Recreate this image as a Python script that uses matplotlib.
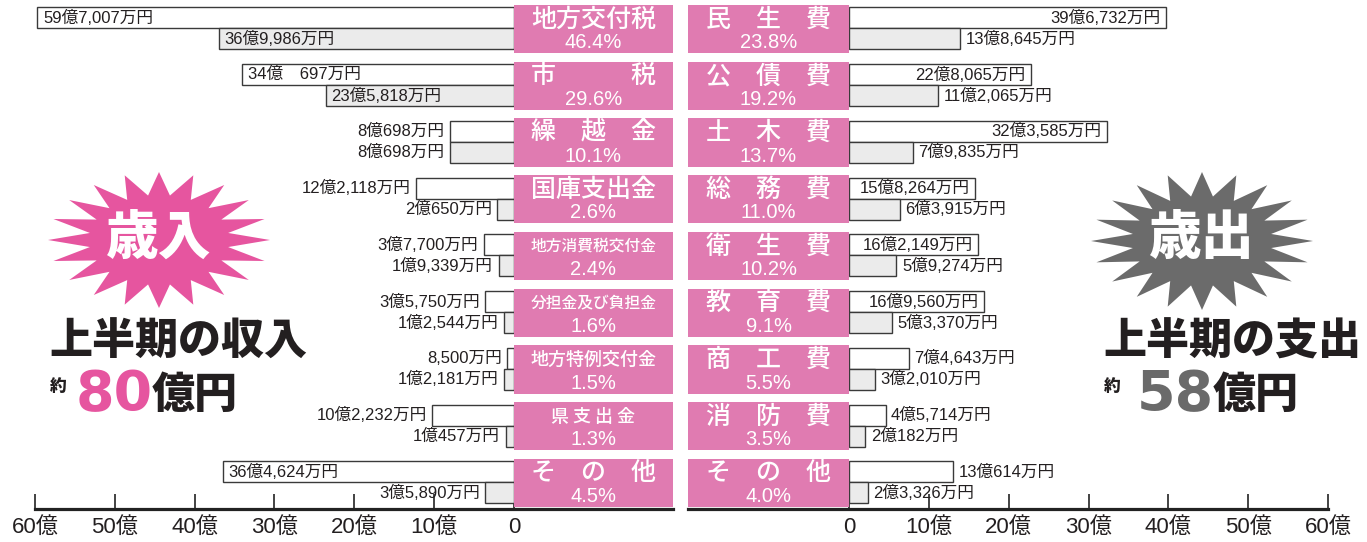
import numpy as np
import matplotlib
matplotlib.use('Agg')
import matplotlib.pyplot as plt
from matplotlib.patches import Rectangle, Polygon

plt.rcParams['font.family'] = ['Liberation Sans', 'Noto Sans CJK JP']

# ---------------- data (億円) ----------------
rev_names = ['地方交付税', '市　　　税', '繰　越　金', '国庫支出金', '地方消費税交付金',
             '分担金及び負担金', '地方特例交付金', '県 支 出 金', 'そ　の　他']
rev_pct = ['46.4%', '29.6%', '10.1%', '2.6%', '2.4%', '1.6%', '1.5%', '1.3%', '4.5%']
rev_budget = [59.7007, 34.0697, 8.0698, 12.2118, 3.7700, 3.5750, 0.8500, 10.2232, 36.4624]
rev_actual = [36.9986, 23.5818, 8.0698, 2.0650, 1.9339, 1.2544, 1.2181, 1.0457, 3.5890]
rev_budget_lbl = ['59億7,007万円', '34億\u3000697万円', '8億698万円', '12億2,118万円', '3億7,700万円',
                  '3億5,750万円', '8,500万円', '10億2,232万円', '36億4,624万円']
rev_actual_lbl = ['36億9,986万円', '23億5,818万円', '8億698万円', '2億650万円', '1億9,339万円',
                  '1億2,544万円', '1億2,181万円', '1億457万円', '3億5,890万円']

exp_names = ['民　生　費', '公　債　費', '土　木　費', '総　務　費', '衛　生　費',
             '教　育　費', '商　工　費', '消　防　費', 'そ　の　他']
exp_pct = ['23.8%', '19.2%', '13.7%', '11.0%', '10.2%', '9.1%', '5.5%', '3.5%', '4.0%']
exp_budget = [39.6732, 22.8065, 32.3585, 15.8264, 16.2149, 16.9560, 7.4643, 4.5714, 13.0614]
exp_actual = [13.8645, 11.2065, 7.9835, 6.3915, 5.9274, 5.3370, 3.2010, 2.0182, 2.3326]
exp_budget_lbl = ['39億6,732万円', '22億8,065万円', '32億3,585万円', '15億8,264万円', '16億2,149万円',
                  '16億9,560万円', '7億4,643万円', '4億5,714万円', '13億614万円']
exp_actual_lbl = ['13億8,645万円', '11億2,065万円', '7億9,835万円', '6億3,915万円', '5億9,274万円',
                  '5億3,370万円', '3億2,010万円', '2億182万円', '2億3,326万円']

tick_vals = [0, 10, 20, 30, 40, 50, 60]
tick_lbls = ['0', '10億', '20億', '30億', '40億', '50億', '60億']

# ---------------- styling ----------------
W, H = 1367, 542
BOX_PINK = '#E07BB1'
STAR_PINK = '#E6559F'
STAR_GRAY = '#6B6B6B'
EDGE = '#3a3a3a'
TEXT = '#231f20'

fig = plt.figure(figsize=(W / 100, H / 100), dpi=100)
fig.patch.set_facecolor('white')


def px_axes(x0, x1, y0, y1, **kw):
    return fig.add_axes([x0 / W, 1 - y1 / H, (x1 - x0) / W, (y1 - y0) / H], **kw)


PITCH = 56.75
ROW0 = 29.0
BASE = 509.0
rows = np.arange(len(rev_names))
ylim = ((BASE - ROW0) / PITCH, -ROW0 / PITCH)
BAR_H = 0.37
TOP_OFF = -0.195
BOT_OFF = 0.175
BOX_H = 0.85

ax_l = px_axes(35, 673, 0, BASE)
ax_l.set_xlim(60, -19.92)
ax_r = px_axes(688, 1328, 0, BASE)
ax_r.set_xlim(-20.17, 60)


def style_axis(ax):
    ax.set_ylim(*ylim)
    ax.patch.set_alpha(0)
    for s in ['top', 'left', 'right']:
        ax.spines[s].set_visible(False)
    ax.spines['bottom'].set_linewidth(2.3)
    ax.spines['bottom'].set_color('#222222')
    ax.set_yticks([])
    ax.set_xticks(tick_vals)
    ax.set_xticklabels(tick_lbls)
    ax.tick_params(axis='x', direction='in', length=11, width=1.2, color='#222222',
                   labelsize=16, pad=6, labelcolor=TEXT)


style_axis(ax_l)
style_axis(ax_r)


def draw_side(ax, names, pcts, budget, actual, blbl, albl, side, box_x0, box_x1):
    ax.barh(rows + TOP_OFF, budget, height=BAR_H, color='white', edgecolor=EDGE,
            linewidth=1.0, zorder=2)
    ax.barh(rows + BOT_OFF, actual, height=BAR_H, color='#EBEBEB', edgecolor=EDGE,
            linewidth=1.0, zorder=2)
    for vals, lbls, off in [(budget, blbl, TOP_OFF), (actual, albl, BOT_OFF)]:
        for r, v, t in zip(rows, vals, lbls):
            inside = v >= 14
            if side == 'left':
                ha = 'left' if inside else 'right'
                dx = 4 if inside else -4
            else:
                ha = 'right' if inside else 'left'
                dx = -4 if inside else 4
            ax.annotate(t, xy=(v, r + off), xytext=(dx, 0), textcoords='offset points',
                        ha=ha, va='center', fontsize=12, color=TEXT, zorder=5)
    for r, n, p in zip(rows, names, pcts):
        ax.add_patch(Rectangle((box_x0, r - BOX_H / 2), box_x1 - box_x0, BOX_H,
                               facecolor=BOX_PINK, edgecolor='none', zorder=4))
        cx = (box_x0 + box_x1) / 2
        fs = 18 if len(n) <= 6 else min(18, 126 / len(n) / 1.389)
        ax.text(cx, r - 0.17, n, ha='center', va='center', fontsize=fs, color='white',
                family=['Noto Sans CJK JP'], fontweight='medium', zorder=6)
        ax.text(cx, r + 0.24, p, ha='center', va='center', fontsize=14.5, color='white',
                zorder=6)


draw_side(ax_l, rev_names, rev_pct, rev_budget, rev_actual, rev_budget_lbl, rev_actual_lbl,
          'left', 0, -19.92)
draw_side(ax_r, exp_names, exp_pct, exp_budget, exp_actual, exp_budget_lbl, exp_actual_lbl,
          'right', -20.17, 0)

# ---------------- decorations ----------------
ax_bg = px_axes(0, W, 0, H)
ax_bg.set_xlim(0, W)
ax_bg.set_ylim(H, 0)
ax_bg.axis('off')
ax_bg.patch.set_alpha(0)


def star(cx, cy, rx, ry, irx, iry, n=20):
    pts = []
    for k in range(2 * n):
        a = np.pi / 2 + k * np.pi / n
        if k % 2 == 0:
            pts.append((cx + rx * np.cos(a), cy - ry * np.sin(a)))
        else:
            pts.append((cx + irx * np.cos(a), cy - iry * np.sin(a)))
    return pts


ax_bg.add_patch(Polygon(star(159, 240, 111, 68, 70, 45), closed=True,
                        facecolor=STAR_PINK, edgecolor='none'))
ax_bg.add_patch(Polygon(star(1202, 241, 111, 69, 70, 45), closed=True,
                        facecolor=STAR_GRAY, edgecolor='none'))
ax_bg.text(159, 238, '歳入', ha='center', va='center', fontsize=38, fontweight='heavy',
           color='white', family=['Noto Sans CJK JP'])
ax_bg.text(1202, 238, '歳出', ha='center', va='center', fontsize=38, fontweight='heavy',
           color='white', family=['Noto Sans CJK JP'])

ax_bg.text(178, 342, '上半期の収入', ha='center', va='center', fontsize=31, fontweight='heavy',
           color=TEXT, family=['Noto Sans CJK JP'])
ax_bg.text(1232, 342, '上半期の支出', ha='center', va='center', fontsize=31, fontweight='heavy',
           color=TEXT, family=['Noto Sans CJK JP'])

ax_bg.text(50, 386, '約', ha='left', va='center', fontsize=12, fontweight='heavy',
           color=TEXT, family=['Noto Sans CJK JP'])
ax_bg.text(153, 395, '80', ha='right', va='center', fontsize=40, fontweight='bold',
           color=STAR_PINK, family=['DejaVu Sans'])
ax_bg.text(152, 395, '億円', ha='left', va='center', fontsize=31, fontweight='heavy',
           color=TEXT, family=['Noto Sans CJK JP'])

ax_bg.text(1104, 386, '約', ha='left', va='center', fontsize=12, fontweight='heavy',
           color=TEXT, family=['Noto Sans CJK JP'])
ax_bg.text(1214, 395, '58', ha='right', va='center', fontsize=40, fontweight='bold',
           color='#6a6a6a', family=['DejaVu Sans'])
ax_bg.text(1213, 395, '億円', ha='left', va='center', fontsize=31, fontweight='heavy',
           color=TEXT, family=['Noto Sans CJK JP'])

fig.savefig('out.png', dpi=100, facecolor='white')
